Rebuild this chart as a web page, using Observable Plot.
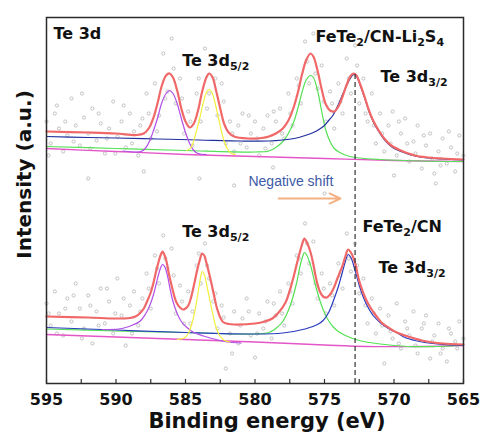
<!DOCTYPE html>
<html><head><meta charset="utf-8">
<script src="https://cdn.jsdelivr.net/npm/d3@7"></script>
<script src="https://cdn.jsdelivr.net/npm/@observablehq/plot@0.6"></script>
<style>body{margin:0;background:#fff}</style>
</head><body><div id="chart"></div>
<script>
// ---- data: [binding energy (eV), intensity (a.u.)] ----
const xTickLabels = [595, 590, 585, 580, 575, 570, 565];
const xMinorTicks = [595, 592.5, 590, 587.5, 585, 582.5, 580, 577.5, 575, 572.5, 570, 567.5, 565];
const shiftLine = [572.8];

// FeTe2/CN-Li2S4 (upper spectrum)
const topFit = [[595,252],[592,251],[590,250],[588.5,248.5],[588,250],[587.6,256],[587.3,266],[587.0,281],[586.7,298],[586.4,308],[586.15,310],[585.9,306],[585.6,293],[585.3,275],[585.0,262],[584.7,256],[584.4,260],[584.1,273],[583.8,292],[583.5,306],[583.3,310],[583.05,306],[582.8,293],[582.5,275],[582.2,259],[581.9,251],[581.5,247],[580.5,245],[579.5,245.5],[579,247],[578.5,250],[578,255],[577.6,263],[577.2,277],[576.9,292],[576.6,310],[576.3,324],[576.0,330],[575.8,327],[575.5,313],[575.2,294],[574.9,279],[574.6,273],[574.3,272],[574.0,277],[573.7,287],[573.4,299],[573.1,308],[572.9,310],[572.7,308],[572.4,298],[572.1,286],[571.8,273],[571.5,263],[571.1,253],[570.7,245],[570.2,238],[569.5,233],[568.5,228],[567.5,226],[566.5,225],[565,224]];
const topPurple = [[589.5,232.5],[588.6,231.5],[588.2,232],[587.9,235],[587.6,242],[587.3,253],[587.0,266],[586.7,281],[586.4,290],[586.15,293],[585.9,290],[585.6,280],[585.3,265],[585.0,251],[584.7,240],[584.4,233],[584.1,230],[583.5,229]];
const topYellow = [[584.9,233],[584.6,236],[584.3,248],[584.0,264],[583.7,282],[583.5,291],[583.3,294],[583.1,291],[582.9,282],[582.6,264],[582.3,246],[582.0,235],[581.7,230],[581.4,229]];
const topGreen = [[595,237],[590,235],[585,233],[580,231.5],[579,232.5],[578.5,236],[578,242],[577.6,250],[577.2,262],[576.9,276],[576.6,292],[576.3,304],[576.0,308],[575.8,306],[575.5,293],[575.2,272],[574.9,253],[574.6,242],[574.3,235],[573.9,231],[573.3,227.5],[572.5,225.5],[571,224],[568,222.5],[565,222]];
const topBlue = [[595,247],[592,246],[590,245.5],[587,244.5],[584,243.5],[581,242.5],[579,242.5],[578,243.5],[577,245.5],[576.4,248],[575.8,251],[575.4,254],[575.0,258],[574.7,263],[574.4,268],[574.0,279],[573.7,289],[573.4,298],[573.15,305],[572.9,309],[572.7,307],[572.4,297],[572.1,285],[571.8,272],[571.5,262],[571.1,252],[570.7,244],[570.2,237],[569.5,232],[568.5,227.5],[567.5,225.5],[566.5,224.5],[565,223.5]];
const topBackground = [[595,235],[590,232],[585,229],[580,227],[575,225],[570,223],[565,222]];
const topRaw = [[595.0,262],[594.7,240],[594.4,270],[594.1,255],[593.8,232],[593.5,248],[593.2,285],[592.9,258],[592.6,238],[592.3,266],[592.0,250],[591.7,275],[591.4,243],[591.1,260],[590.8,230],[590.5,255],[590.2,282],[589.9,247],[589.6,262],[589.3,236],[589.0,270],[588.7,252],[588.4,228],[588.1,265],[587.8,290],[587.5,245],[587.2,300],[586.9,268],[586.6,330],[586.3,292],[586.0,345],[585.7,280],[585.4,305],[585.1,250],[584.8,272],[584.5,238],[584.2,290],[583.9,262],[583.6,335],[583.3,290],[583.0,320],[582.7,268],[582.4,300],[582.1,240],[581.8,262],[581.5,232],[581.2,258],[580.9,270],[580.6,236],[580.3,250],[580.0,262],[579.7,228],[579.4,255],[579.1,268],[578.8,240],[578.5,262],[578.2,275],[577.9,245],[577.6,290],[577.3,258],[577.0,305],[576.7,280],[576.4,342],[576.1,300],[575.8,350],[575.5,295],[575.2,318],[574.9,262],[574.6,292],[574.3,255],[574.0,300],[573.7,270],[573.4,325],[573.1,290],[572.8,338],[572.5,280],[572.2,305],[571.9,262],[571.6,290],[571.3,240],[571.0,270],[570.7,232],[570.4,258],[570.1,272],[569.8,228],[569.5,250],[569.2,265],[568.9,222],[568.6,242],[568.3,258],[568.0,215],[567.7,238],[567.4,250],[567.1,210],[566.8,232],[566.5,245],[566.2,220],[565.9,236],[565.6,212],[565.3,248],[565.0,228],
[594.85,228],[594.25,278],[593.65,262],[593.05,242],[592.45,290],[591.85,235],[591.25,270],[590.65,245],[590.05,230],[589.45,278],[588.85,240],[588.25,258],[587.65,270],[587.05,252],[586.45,285],[585.85,315],[585.25,285],[584.65,262],[584.05,305],[583.45,275],[582.85,305],[582.25,282],[581.65,250],[581.05,240],[580.45,268],[579.85,245],[579.25,235],[578.65,272],[578.05,250],[577.45,270],[576.85,298],[576.25,322],[575.65,310],[575.05,282],[574.45,280],[573.85,282],[573.25,305],[572.65,318],[572.05,270],[571.45,258],[570.85,250],[570.25,240],[569.65,262],[569.05,240],[568.45,230],[567.85,248],[567.25,225],[566.65,218],[566.05,252],[565.45,230],
[581.5,198],[578.7,216],[570,208],[567,200],[575,190],[584,205],[588,212],[592,205]];

// FeTe2/CN (lower spectrum)
const botFit = [[595,67],[592,66],[590,65],[589,65.5],[588.6,67],[588.3,70],[588.0,75],[587.8,81],[587.5,91],[587.3,101],[587.1,113],[586.95,121],[586.8,128],[586.65,132],[586.5,128],[586.35,121],[586.2,110],[586.0,98],[585.8,87],[585.65,81],[585.4,76],[585.2,74],[585.0,75],[584.8,78],[584.6,86],[584.35,101],[584.15,114],[584.0,122],[583.8,130],[583.65,128],[583.5,121],[583.3,110],[583.1,98],[582.9,85],[582.75,76],[582.5,66],[582.3,61.5],[581.9,59.5],[581.5,59],[580,60],[579.3,62],[578.75,65],[578.3,71],[577.8,81],[577.5,93],[577.2,108],[576.95,122],[576.7,135],[576.55,142],[576.45,145],[576.3,142],[576.0,131],[575.8,119],[575.65,108],[575.5,99],[575.3,91],[575.1,87],[574.85,86],[574.6,89],[574.35,95],[574.1,104],[573.9,111],[573.7,118],[573.5,127],[573.3,134],[573.1,131],[572.9,125],[572.7,115],[572.55,105],[572.3,94],[572.05,85],[571.7,76],[571.3,68],[570.9,61],[570.4,56],[569.8,51],[569.2,48],[568.5,45],[568,43],[567.2,41],[566.5,40],[565,39]];
const botPurple = [[591,54],[589.8,54.5],[589.3,56],[588.8,58.5],[588.3,62],[587.9,69],[587.6,77],[587.3,89],[587.1,100],[586.9,111],[586.75,117],[586.65,119],[586.5,117],[586.3,108],[586.1,94],[585.9,82],[585.6,70],[585.3,62],[584.9,56],[584.4,51],[583.7,47.5],[582.8,44],[582,41.5],[581,40.5]];
const botYellow = [[585.6,44],[585.1,45.5],[584.8,50],[584.5,62],[584.25,78],[584.05,95],[583.9,107],[583.8,112],[583.65,109],[583.45,97],[583.2,80],[583.0,67],[582.8,56],[582.55,48],[582.2,43],[581.8,41.5]];
const botGreen = [[595,54.5],[590,52.5],[585,51],[580,49.5],[579,51],[578.5,55],[578,62],[577.6,73],[577.3,85],[577.0,101],[576.75,118],[576.55,128],[576.45,131],[576.3,129],[576.0,118],[575.7,101],[575.4,86],[575.1,74],[574.8,65],[574.4,57],[574,52],[573.5,48],[572.5,43],[571,39.5],[569,37],[567,37],[565,38]];
const botBlue = [[595,56],[590,53.5],[585,51],[580,49.5],[578,50.5],[576.4,54.5],[575.5,59],[575.1,63],[574.7,71],[574.3,85],[574.0,97],[573.7,112],[573.5,122],[573.3,129],[573.1,126],[572.8,113],[572.5,98],[572.2,86],[571.9,77],[571.5,68],[571.0,61],[570.4,55],[569.7,50],[569.2,46],[568.5,43],[567.8,41],[566.5,39],[565,38]];
const botBackground = [[595,49],[590,46.5],[585,44],[580,41.5],[575,38.5],[572,37],[568,37],[565,38]];
const botRaw = [[595.0,80],[594.7,58],[594.4,92],[594.1,70],[593.8,48],[593.5,85],[593.2,62],[592.9,100],[592.6,75],[592.3,55],[592.0,88],[591.7,40],[591.4,72],[591.1,95],[590.8,60],[590.5,82],[590.2,50],[589.9,105],[589.6,68],[589.3,38],[589.0,78],[588.7,92],[588.4,58],[588.1,85],[587.8,110],[587.5,75],[587.2,128],[586.9,100],[586.6,148],[586.3,115],[586.0,135],[585.7,70],[585.4,98],[585.1,60],[584.8,92],[584.5,72],[584.2,118],[583.9,100],[583.6,140],[583.3,105],[583.0,82],[582.7,55],[582.4,78],[582.1,15],[581.8,50],[581.5,72],[581.2,40],[580.9,65],[580.6,85],[580.3,48],[580.0,26],[579.7,70],[579.4,55],[579.1,82],[578.8,45],[578.5,68],[578.2,92],[577.9,58],[577.6,100],[577.3,80],[577.0,128],[576.7,110],[576.4,160],[576.1,120],[575.8,142],[575.5,85],[575.2,110],[574.9,70],[574.6,100],[574.3,78],[574.0,120],[573.7,95],[573.4,150],[573.1,112],[572.8,140],[572.5,90],[572.2,105],[571.9,60],[571.6,85],[571.3,50],[571.0,75],[570.7,20],[570.4,68],[570.1,45],[569.8,80],[569.5,35],[569.2,62],[568.9,48],[568.6,72],[568.3,30],[568.0,55],[567.7,68],[567.4,25],[567.1,48],[566.8,60],[566.5,35],[566.2,22],[565.9,50],[565.6,42],[565.3,62],[565.0,45],
[594.85,70],[594.25,50],[593.65,75],[593.05,88],[592.45,45],[591.85,78],[591.25,58],[590.65,95],[590.05,70],[589.45,85],[588.85,50],[588.25,72],[587.65,95],[587.05,115],[586.45,125],[585.85,108],[585.25,82],[584.65,60],[584.05,130],[583.45,118],[582.85,90],[582.25,66],[581.65,30],[581.05,58],[580.45,72],[579.85,50],[579.25,62],[578.65,80],[578.05,70],[577.45,92],[576.85,125],[576.25,140],[575.65,100],[575.05,95],[574.45,88],[573.85,108],[573.25,125],[572.65,118],[572.05,78],[571.45,70],[570.85,58],[570.25,52],[569.65,40],[569.05,55],[568.45,38],[567.85,60],[567.25,42],[566.65,30],[566.05,55],[565.45,35]];

// annotations (text uses _{...} for subscripts)
const labelText = ["Te 3d", "Te 3d_{5/2}", "FeTe_{2}/CN-Li_{2}S_{4}", "Te 3d_{3/2}", "Te 3d_{5/2}", "FeTe_{2}/CN", "Te 3d_{3/2}"];
const labelE = [594.5, 585.24, 575.65, 570.97, 585.24, 572.27, 571.12];
const labelI = [344.7, 318, 341.3, 301.3, 147, 151.5, 110.5];
const shiftText = ["Negative shift"];
const shiftTextE = [580.47];
const shiftTextI = [198];
const arrowData = [{x1: 578.3, x2: 573.85, y: 185}];

const labels = labelText.map((t, i) => ({t, x: labelE[i], y: labelI[i]}));
const pt = d => ({x: d[0], y: d[1]});
const FONT = "DejaVu Sans";

function curve(data, stroke, w) {
  return Plot.line(data.map(pt), {x: "x", y: "y", stroke, strokeWidth: w, curve: "catmull-rom"});
}

const chart = Plot.plot({
  width: 482, height: 436,
  marginLeft: 46, marginRight: 19, marginTop: 17, marginBottom: 53,
  style: {fontFamily: FONT, background: "#fff", overflow: "visible"},
  x: {domain: [595, 565], label: null},
  y: {domain: [0, 366], axis: null},
  marks: [
    Plot.dot(topRaw.map(pt), {x: "x", y: "y", r: 1.6, stroke: "#b4b4b4", strokeWidth: 0.8, fill: "none"}),
    Plot.dot(botRaw.map(pt), {x: "x", y: "y", r: 1.6, stroke: "#b4b4b4", strokeWidth: 0.8, fill: "none"}),
    curve(topBackground, "#e456c8", 1.3),
    curve(botBackground, "#e456c8", 1.3),
    curve(topGreen, "#55e055", 1.2),
    curve(botGreen, "#55e055", 1.2),
    curve(topBlue, "#1f2f9e", 1.2),
    curve(botBlue, "#2a3cc0", 1.2),
    curve(topPurple, "#b24fe6", 1.2),
    curve(botPurple, "#b24fe6", 1.2),
    curve(topYellow, "#f2ef40", 1.2),
    curve(botYellow, "#f2ef40", 1.2),
    curve(topFit, "#f06868", 2.2),
    curve(botFit, "#f06868", 2.2),
    Plot.ruleX(shiftLine, {y1: 0, y2: 309, stroke: "#333", strokeWidth: 1.2, strokeDasharray: "5,3"}),
    Plot.arrow(arrowData, {x1: "x1", x2: "x2", y1: "y", y2: "y", stroke: "#f4b183", strokeWidth: 2, headLength: 9, headAngle: 50}),
    Plot.text(shiftText, {x: shiftTextE, y: shiftTextI, text: d => d, textAnchor: "start", lineAnchor: "bottom", fontSize: 14, fontFamily: "Liberation Sans", fill: "#3d5aa6"}),
    Plot.text(labels, {x: "x", y: "y", text: "t", textAnchor: "start", lineAnchor: "bottom", fontSize: 16, fontWeight: "bold", fontFamily: FONT, fill: "#111"}),
    Plot.ruleX(xMinorTicks, {y1: 0, y2: 4, stroke: "#333", strokeWidth: 1.2}),
    Plot.frame({stroke: "#2b2b2b", strokeWidth: 1.5}),
    Plot.axisX({ticks: xTickLabels, tickSize: 0, tickPadding: 10, fontSize: 16, fontWeight: "bold", fontFamily: FONT, fill: "#111", tickFormat: d => String(d), label: null}),
    Plot.text(["Binding energy (eV)"], {frameAnchor: "bottom", dx: 12, dy: 44, lineAnchor: "bottom", textAnchor: "middle", fontSize: 21, fontWeight: "bold", fontFamily: FONT, fill: "#111"}),
    Plot.text(["Intensity (a.u.)"], {frameAnchor: "left", dx: -22, dy: -26, rotate: -90, textAnchor: "middle", lineAnchor: "middle", fontSize: 20, fontWeight: "bold", fontFamily: FONT, fill: "#111"})
  ]
});

// turn _{...} into subscript tspans
d3.select(chart).selectAll("text").each(function () {
  const s = this.textContent;
  if (!s || !s.includes("_{")) return;
  const el = d3.select(this);
  el.text(null);
  const re = /_\{([^}]*)\}/g;
  let last = 0, m, down = false;
  while ((m = re.exec(s))) {
    if (m.index > last) {
      el.append("tspan").attr("dy", down ? "-4" : null).text(s.slice(last, m.index));
      down = false;
    }
    el.append("tspan").attr("dy", down ? null : "4").attr("font-size", "11").text(m[1]);
    down = true;
    last = re.lastIndex;
  }
  if (last < s.length) el.append("tspan").attr("dy", down ? "-4" : null).text(s.slice(last));
});

document.getElementById("chart").appendChild(chart);
</script>
</body></html>
